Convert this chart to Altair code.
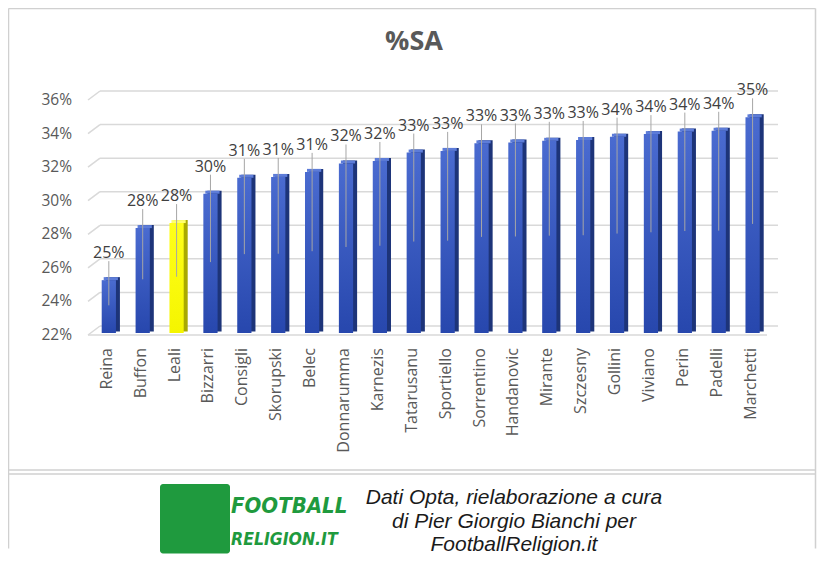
import altair as alt
import pandas as pd

# ---- data ----
players = ["Reina", "Buffon", "Leali", "Bizzarri", "Consigli", "Skorupski", "Belec",
           "Donnarumma", "Karnezis", "Tatarusanu", "Sportiello", "Sorrentino",
           "Handanovic", "Mirante", "Szczesny", "Gollini", "Viviano", "Perin",
           "Padelli", "Marchetti"]
sa = [0.250, 0.281, 0.284, 0.3015, 0.311, 0.3115, 0.3145, 0.3195, 0.321, 0.326,
      0.327, 0.3315, 0.332, 0.333, 0.3335, 0.3355, 0.337, 0.3385, 0.339, 0.347]
highlight = "Leali"
y_ticks = [0.22, 0.24, 0.26, 0.28, 0.30, 0.32, 0.34, 0.36]
title_text = "%SA"
footer_text = "Dati Opta, rielaborazione a cura\ndi Pier Giorgio Bianchi per\nFootballReligion.it"
logo_top = "FOOTBALL"
logo_bottom = "RELIGION.IT"

df = pd.DataFrame({"player": players, "sa": sa})
df["base"] = y_ticks[0]
ticks_df = pd.DataFrame({"t": y_ticks})
one = pd.DataFrame({"k": [0]})

FONT = "Open Sans"
GRID = "#d9d9d9"
FRAME = "#d0d0d0"

yscale = alt.Scale(domain=[0.22, 0.36], nice=False, zero=False)
xscale = alt.Scale(paddingInner=0.58, paddingOuter=0.295, align=0.085)

xaxis = alt.Axis(title=None, labelAngle=-90, labelAlign="right", labelBaseline="middle",
                 labelPadding=17, labelOffset=-2, labelFont=FONT, labelFontSize=16,
                 labelColor="#595959", domain=False, ticks=False, grid=False,
                 labelOverlap=False)

X = alt.X("player:N", sort=players, scale=xscale, axis=xaxis)
Y = alt.Y("sa:Q", scale=yscale, axis=None)
Y2base = alt.Y2("base:Q")
is_hl = alt.datum.player == highlight

blue_grad = alt.Gradient(
    gradient="linear",
    stops=[alt.GradientStop(offset=0, color="#4a6bd0"),
           alt.GradientStop(offset=1, color="#2747ad")],
    x1=0, x2=0, y1=0, y2=1,
)
yellow_grad = alt.Gradient(
    gradient="linear",
    stops=[alt.GradientStop(offset=0, color="#ffff1a"),
           alt.GradientStop(offset=1, color="#f5f500")],
    x1=0, x2=0, y1=0, y2=1,
)

base = alt.Chart(df)

# 3D-style gridlines: back-wall lines, side-wall diagonals, and tick labels at the front edge
tick_base = alt.Chart(ticks_df)
TY = alt.Y("t:Q", scale=yscale, axis=None)
grid = tick_base.mark_rule(yOffset=-4.5, color=GRID, strokeWidth=1.5).encode(
    x=alt.value(0), x2=alt.value(678), y=TY,
)
diag = tick_base.mark_rule(
    yOffset=4.5, y2Offset=-4.5, color=GRID, strokeWidth=1.5
).encode(
    x=alt.value(-12), x2=alt.value(0), y=TY, y2=alt.Y2("t:Q"),
)
ylabels = tick_base.mark_text(
    dy=4.5, align="right", baseline="middle", font=FONT, fontSize=15.5, color="#595959"
).encode(
    x=alt.value(-28), y=TY, text=alt.Text("t:Q", format=".0%"),
)
floor = tick_base.transform_filter("datum.t < 0.23").mark_rule(
    yOffset=4.5, color=GRID, strokeWidth=1.5
).encode(y=TY, x=alt.value(-12), x2=alt.value(667))

# side face (dark), drawn behind
side = base.mark_bar(xOffset=4, yOffset=-3, y2Offset=1).encode(
    x=X, y=Y, y2=Y2base,
    color=alt.condition(is_hl, alt.value("#a9a900"), alt.value("#1d3479")),
)
# top face (lighter)
top = base.mark_bar(xOffset=2, yOffset=-3, y2Offset=0).encode(
    x=X, y=Y, y2=alt.Y2("sa:Q"),
    color=alt.condition(is_hl, alt.value("#ffff70"), alt.value("#5d7cd8")),
)
front_blue = base.transform_filter(alt.datum.player != highlight).mark_bar(
    y2Offset=2.5, color=blue_grad
).encode(x=X, y=Y, y2=Y2base)
front_yellow = base.transform_filter(is_hl).mark_bar(
    y2Offset=2.5, color=yellow_grad
).encode(x=X, y=Y, y2=Y2base)
leaders = base.transform_calculate(mid="(datum.sa + datum.base) / 2").mark_rule(
    yOffset=-19, color="#a6a6a6", strokeWidth=1
).encode(x=X, y=Y, y2=alt.Y2("mid:Q"))
labels = base.mark_text(dy=-27, font=FONT, fontSize=16, color="#404040").encode(
    x=X, y=Y, text=alt.Text("sa:Q", format=".0%"),
)

# title
title = alt.Chart(one).mark_text(
    text=title_text, font=FONT, fontSize=27, fontWeight="bold", color="#595959",
    align="center", baseline="middle"
).encode(x=alt.value(314), y=alt.value(-54))

# frame lines
RIGHT = 715.5
BOTTOM = 453


def hline(y):
    return alt.Chart(one).mark_rule(color=FRAME, strokeWidth=1.5).encode(
        x=alt.value(-91.5), x2=alt.value(RIGHT), y=alt.value(y))


def vline(x):
    return alt.Chart(one).mark_rule(color=FRAME, strokeWidth=1.5).encode(
        x=alt.value(x), y=alt.value(-87), y2=alt.value(BOTTOM))


frames = [hline(-87), hline(374.5), hline(378.5), vline(-91.5), vline(RIGHT)]

# footer: logo + credit text
logo_box = alt.Chart(one).mark_rect(color="#1f9a3e", cornerRadius=3).encode(
    x=alt.value(60), x2=alt.value(130), y=alt.value(388.5), y2=alt.value(458)
)
logo_font = "Liberation Sans Narrow, DejaVu Sans Condensed, Roboto Condensed, Roboto"
logo_t1 = alt.Chart(one).mark_text(
    text=logo_top, font=logo_font, fontSize=22, fontWeight="bold", fontStyle="italic",
    color="#1f9a3e", align="left", baseline="middle"
).encode(x=alt.value(131), y=alt.value(410))
logo_t2 = alt.Chart(one).mark_text(
    text=logo_bottom, font=logo_font, fontSize=17.5, fontWeight="bold", fontStyle="italic",
    color="#1f9a3e", align="left", baseline="middle"
).encode(x=alt.value(131), y=alt.value(444))
credit = alt.Chart(one).mark_text(
    text=footer_text, lineBreak="\n", lineHeight=23.5, font="Liberation Sans",
    fontSize=21, fontStyle="italic", color="#1a1a1a", align="center", baseline="middle"
).encode(x=alt.value(414), y=alt.value(402.5))

chart = alt.layer(
    grid, diag, floor, ylabels, side, top, front_blue, front_yellow, leaders, labels,
    title, *frames, logo_box, logo_t1, logo_t2, credit
).properties(
    width=678, height=235,
    padding={"left": 92, "top": 87.5, "right": 39, "bottom": 225.5},
    autosize=alt.AutoSizeParams(type="none"),
    background="white",
).configure_view(strokeWidth=0)

chart.save("out.html", embed_options={"renderer": "svg", "actions": False})
